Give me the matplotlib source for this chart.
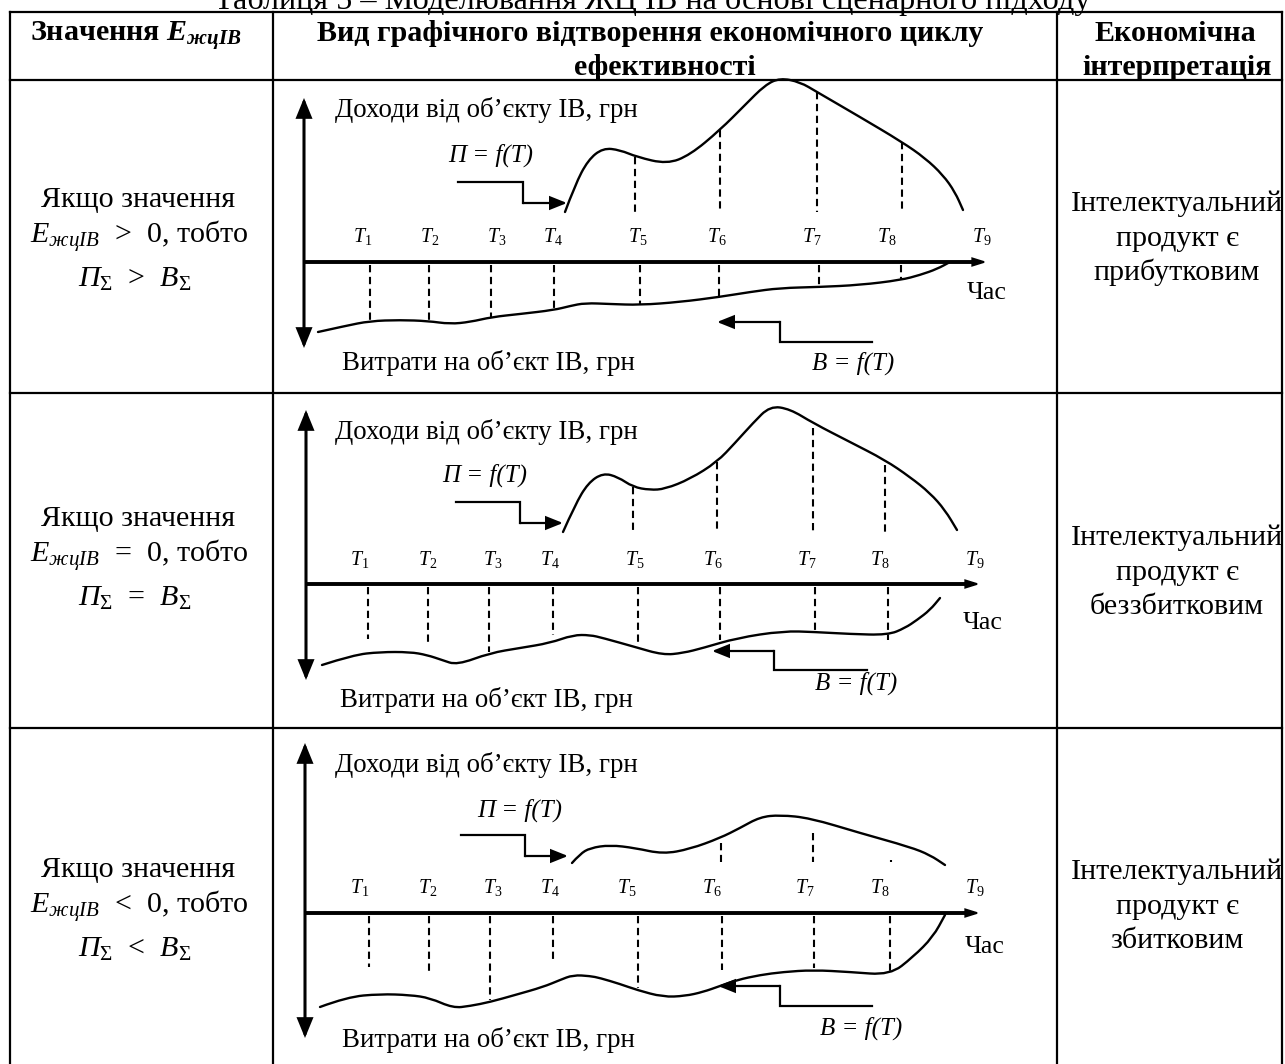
import matplotlib
matplotlib.use("Agg")
import matplotlib.pyplot as plt
from matplotlib.path import Path
from matplotlib.patches import PathPatch

plt.rcParams['font.family'] = ['Liberation Serif', 'DejaVu Serif']
plt.rcParams['mathtext.fontset'] = 'custom'
plt.rcParams['mathtext.rm'] = 'Liberation Serif'
plt.rcParams['mathtext.it'] = 'Liberation Serif:italic'
plt.rcParams['mathtext.bf'] = 'Liberation Serif:bold'
plt.rcParams['mathtext.bfit'] = 'Liberation Serif:bold:italic'
plt.rcParams['mathtext.sf'] = 'Liberation Serif'

# ---------------- DATA ----------------
TITLE = "Таблиця 5 – Моделювання ЖЦ ІВ на основі сценарного підходу"
HEAD_COL1 = r"Значення $\mathbfit{E}_{\mathbfit{жцIB}}$"
HEAD_COL2 = ["Вид графічного відтворення економічного циклу", "ефективності"]
HEAD_COL3 = ["Економічна", "інтерпретація"]
CONDITION_SIGNS = [">", "=", "<"]
RESULT_WORDS = ["прибутковим", "беззбитковим", "збитковим"]
T_INDEX = ["1", "2", "3", "4", "5", "6", "7", "8", "9"]
LABEL_INCOME = "Доходи від об’єкту ІВ, грн"
LABEL_COST = "Витрати на об’єкт ІВ, грн"
LABEL_TIME = "Час"
LABEL_P = "П = f(T)"
LABEL_B = "B = f(T)"

# diagram values: (time offset, amount) ; amount > 0 income, < 0 costs
INCOME_1 = [(261, 50), (271, 77), (284, 102), (299, 114), (316, 112), (333, 105), (363, 98),
            (386, 107), (416, 132), (441, 157), (461, 177), (476, 184), (496, 180), (513, 170),
            (556, 145), (598, 120), (621, 104), (639, 87), (651, 70), (659, 52)]
COST_1 = [(14, -70), (41, -64), (66, -59), (96, -58), (124, -59), (146, -62), (166, -60),
          (188, -55), (216, -52), (250, -48), (266, -44), (281, -41), (306, -42), (336, -43),
          (376, -40), (415, -35), (446, -30), (476, -26), (515, -25), (556, -23), (597, -18),
          (616, -13), (633, -7), (646, 0)]
INC_DASH_T_1 = [331, 416, 513, 598]
INC_DASH_TOP_1 = [105, 132, 170, 120]
COST_DASH_T_1 = [66, 125, 187, 250, 336, 415, 515, 597]
COST_DASH_BOT_1 = [-58, -58, -55, -48, -43, -35, -25, -18]
T_POS_1 = [59, 126, 193, 249, 334, 413, 508, 583, 678]

INCOME_2 = [(257, 52), (269, 79), (282, 101), (297, 111), (312, 107), (327, 97), (344, 94),
            (359, 95), (384, 105), (411, 122), (429, 141), (447, 161), (464, 178), (484, 175),
            (507, 161), (544, 142), (579, 124), (604, 107), (624, 91), (639, 74), (651, 54)]
COST_2 = [(16, -81), (47, -71), (74, -68), (104, -68), (121, -71), (136, -76), (151, -81),
          (184, -69), (214, -64), (244, -59), (267, -51), (284, -51), (297, -54), (329, -63),
          (357, -71), (377, -69), (397, -64), (431, -54), (477, -47), (509, -48), (544, -50),
          (582, -51), (599, -44), (611, -36), (624, -26), (634, -14)]
INC_DASH_T_2 = [327, 411, 507, 579]
INC_DASH_TOP_2 = [97, 122, 156, 119]
COST_DASH_T_2 = [62, 122, 183, 247, 332, 414, 509, 582]
COST_DASH_BOT_2 = [-55, -61, -68, -51, -61, -56, -49, -56]
T_POS_2 = [54, 122, 187, 244, 329, 407, 501, 574, 669]

INCOME_3 = [(267, 50), (275, 59), (285, 65), (305, 68), (330, 65), (358, 59), (385, 64),
            (415, 75), (435, 85), (455, 96), (475, 98), (505, 95), (555, 80), (605, 66),
            (625, 58), (640, 48)]
COST_3 = [(15, -94), (42, -84), (75, -81), (105, -82), (125, -85), (148, -95), (165, -93),
          (185, -89), (210, -82), (238, -74), (255, -67), (268, -62), (285, -63), (295, -65),
          (315, -71), (332, -77), (358, -84), (380, -83), (398, -79), (415, -73), (432, -67),
          (455, -62), (478, -59), (508, -57), (545, -59), (585, -62), (608, -44), (628, -24),
          (640, -2)]
INC_DASH_T_3 = [416, 508, 586]
INC_DASH_TOP_3 = [70, 80, 53]
COST_DASH_T_3 = [64, 124, 185, 248, 333, 417, 509, 585]
COST_DASH_BOT_3 = [-54, -60, -87, -50, -75, -57, -55, -60]
T_POS_3 = [55, 123, 188, 245, 322, 407, 500, 575, 670]

ROWS = [
    dict(inc=INCOME_1, cost=COST_1, idt=INC_DASH_T_1, idtop=INC_DASH_TOP_1,
         cdt=COST_DASH_T_1, cdb=COST_DASH_BOT_1, tpos=T_POS_1),
    dict(inc=INCOME_2, cost=COST_2, idt=INC_DASH_T_2, idtop=INC_DASH_TOP_2,
         cdt=COST_DASH_T_2, cdb=COST_DASH_BOT_2, tpos=T_POS_2),
    dict(inc=INCOME_3, cost=COST_3, idt=INC_DASH_T_3, idtop=INC_DASH_TOP_3,
         cdt=COST_DASH_T_3, cdb=COST_DASH_BOT_3, tpos=T_POS_3),
]

# ---------------- LAYOUT ----------------
W, H = 1285, 1064
GRID_X = [10, 273, 1057, 1282]
GRID_Y = [12, 80, 393, 728]
ORIGINS = [(304, 262), (306, 584), (305, 913)]
AXIS_UP = [164, 174, 170]
AXIS_DOWN = [-86, -96, -125]
AXIS_END = [683, 674, 675]
INC_DASH_BASE = [50, 51, 51]
T_LABEL_V = [20, 19, 20]
P_POINTER = [[(154, 80), (219, 80), (219, 59), (263, 59)],
             [(150, 82), (214, 82), (214, 61), (257, 61)],
             [(156, 78), (220, 78), (220, 57), (263, 57)]]
B_POINTER = [[(568, -80), (476, -80), (476, -60), (413, -60)],
             [(561, -86), (468, -86), (468, -67), (406, -67)],
             [(567, -93), (475, -93), (475, -73), (413, -73)]]
TXT_INC = [(31, 152), (29, 152), (30, 148)]
TXT_P = [(144, 107), (136, 109), (172, 103)]
TXT_COST = [(38, -101), (34, -116), (37, -127)]
TXT_B = [(508, -101), (509, -99), (515, -115)]
TXT_TIME = [(663, -31), (657, -39), (660, -34)]
LEFT_BASE = [[207, 244, 287], [526, 563, 606], [877, 914, 957]]
RIGHT_BASE = [[211, 246, 280], [545, 580, 614], [879, 914, 948]]

BODY = 21.6
DIAG = 19.4

fig = plt.figure(figsize=(W / 100, H / 100), dpi=100)
ax = fig.add_axes([0, 0, 1, 1])
ax.set_xlim(0, W)
ax.set_ylim(H, 0)
ax.axis('off')

# title (cut at the top, as in the source page)
ax.text(652, 9, TITLE, ha='center', va='baseline', fontsize=23.2)

# table grid
for y in GRID_Y:
    ax.plot([GRID_X[0], GRID_X[-1]], [y, y], color='k', lw=1.6, solid_capstyle='projecting')
for x in GRID_X:
    ax.plot([x, x], [GRID_Y[0], H], color='k', lw=1.6, solid_capstyle='projecting')

# header
ax.text(136, 41, HEAD_COL1, ha='center', va='baseline', fontsize=BODY, fontweight='bold')
ax.text(650, 41, HEAD_COL2[0], ha='center', va='baseline', fontsize=BODY, fontweight='bold')
ax.text(665, 75, HEAD_COL2[1], ha='center', va='baseline', fontsize=BODY, fontweight='bold')
ax.text(1175, 41, HEAD_COL3[0], ha='center', va='baseline', fontsize=BODY, fontweight='bold')
ax.text(1177, 75, HEAD_COL3[1], ha='center', va='baseline', fontsize=BODY, fontweight='bold')


def arrow(x0, y0, x1, y1, style, lw, ms):
    ax.annotate('', xy=(x1, y1), xytext=(x0, y0),
                arrowprops=dict(arrowstyle=style, lw=lw, color='k', mutation_scale=ms,
                                shrinkA=0, shrinkB=0, joinstyle='miter'))


def smooth_curve(pts, lw=1.7):
    # quadratic B-spline style path drawn by matplotlib (points act as control points)
    verts = [pts[0]]
    codes = [Path.MOVETO]
    for k in range(1, len(pts) - 1):
        mx = (pts[k][0] + pts[k + 1][0]) / 2
        my = (pts[k][1] + pts[k + 1][1]) / 2
        verts += [pts[k], (mx, my)]
        codes += [Path.CURVE3, Path.CURVE3]
    verts.append(pts[-1])
    codes.append(Path.LINETO)
    ax.add_patch(PathPatch(Path(verts, codes), fill=False, lw=lw, ec='k',
                           capstyle='round', joinstyle='round'))


for i, row in enumerate(ROWS):
    ox, oy = ORIGINS[i]
    X = lambda t: ox + t
    Y = lambda v: oy - v

    # left column text
    lb = LEFT_BASE[i]
    ax.text(138, lb[0], "Якщо значення", ha='center', va='baseline', fontsize=BODY)
    ax.text(139, lb[1], r"$E_{жцIB}$  " + CONDITION_SIGNS[i] + "  0, тобто",
            ha='center', va='baseline', fontsize=BODY)
    ax.text(135, lb[2], r"$П_{\Sigma}$  " + CONDITION_SIGNS[i] + r"  $B_{\Sigma}$",
            ha='center', va='baseline', fontsize=BODY)
    # right column text
    rb = RIGHT_BASE[i]
    ax.text(1177, rb[0], "Інтелектуальний", ha='center', va='baseline', fontsize=BODY)
    ax.text(1177, rb[1], "продукт є", ha='center', va='baseline', fontsize=BODY)
    ax.text(1177, rb[2], RESULT_WORDS[i], ha='center', va='baseline', fontsize=BODY)

    # axes of the diagram
    arrow(X(0), Y(AXIS_DOWN[i]), X(0), Y(AXIS_UP[i]),
          '<|-|>,head_length=1.1,head_width=0.45', 2.2, 10)
    ax.plot([X(0), X(AXIS_END[i]) - 6], [Y(0), Y(0)], color='k', lw=2.8, solid_capstyle='butt')
    arrow(X(AXIS_END[i]) - 8, Y(0), X(AXIS_END[i]), Y(0),
          '-|>,head_length=0.8,head_width=0.25', 1.5, 10)

    # curves
    smooth_curve([(X(t), Y(v)) for t, v in row['inc']])
    smooth_curve([(X(t), Y(v)) for t, v in row['cost']])

    # dashed verticals
    for t, top in zip(row['idt'], row['idtop']):
        ax.plot([X(t), X(t)], [Y(top), Y(INC_DASH_BASE[i])], color='k', lw=1.5,
                linestyle=(0, (3.5, 2.2)))
    for t, bot in zip(row['cdt'], row['cdb']):
        ax.plot([X(t), X(t)], [Y(-3), Y(bot)], color='k', lw=1.5,
                linestyle=(0, (3.5, 2.2)))

    # T labels
    for t, k in zip(row['tpos'], T_INDEX):
        ax.text(X(t), Y(T_LABEL_V[i]), r"$T_{\mathit{" + k + "}}$", ha='center',
                va='baseline', fontsize=14.4)

    # pointers
    for pts in (P_POINTER[i], B_POINTER[i]):
        xs = [X(p[0]) for p in pts]
        ys = [Y(p[1]) for p in pts]
        ax.plot(xs[:-1], ys[:-1], color='k', lw=1.6, solid_joinstyle='miter')
        arrow(xs[-2], ys[-2], xs[-1], ys[-1], '-|>,head_length=1.0,head_width=0.4', 1.6, 10)

    # diagram texts
    ax.text(X(TXT_INC[i][0]), Y(TXT_INC[i][1]), LABEL_INCOME, ha='left', va='center', fontsize=DIAG)
    ax.text(X(TXT_COST[i][0]), Y(TXT_COST[i][1]), LABEL_COST, ha='left', va='center', fontsize=DIAG)
    ax.text(X(TXT_P[i][0]), Y(TXT_P[i][1]), LABEL_P, ha='left', va='center', fontsize=18,
            style='italic')
    ax.text(X(TXT_B[i][0]), Y(TXT_B[i][1]), LABEL_B, ha='left', va='center', fontsize=18,
            style='italic')
    ax.text(X(TXT_TIME[i][0]), Y(TXT_TIME[i][1]), LABEL_TIME, ha='left', va='center',
            fontsize=18.7)

fig.savefig("out.png", dpi=100)
